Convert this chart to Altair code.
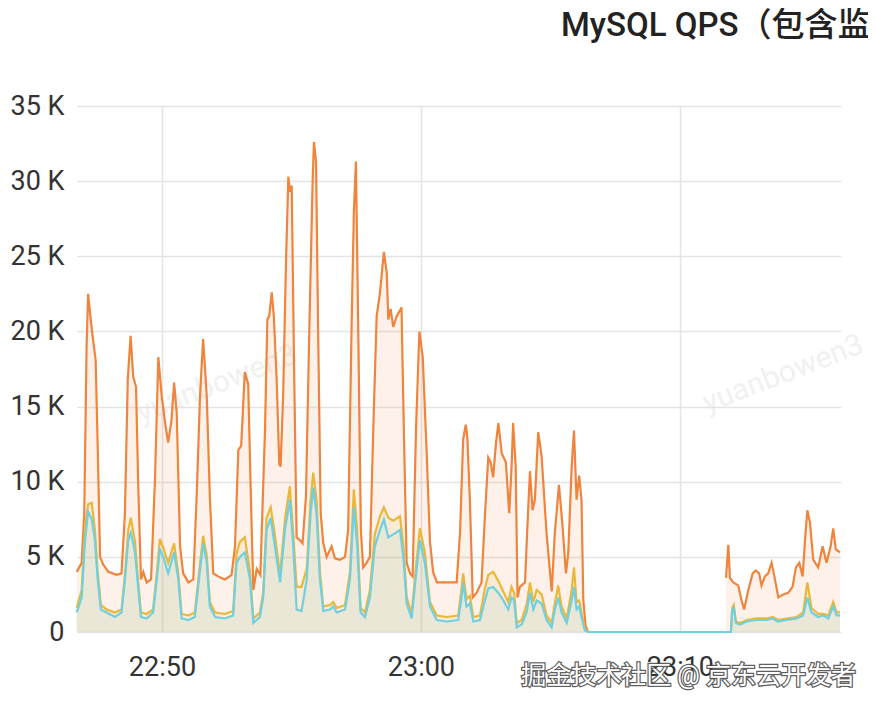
import altair as alt
import pandas as pd

TITLE = "MySQL QPS（包含监控）"
WATERMARK = "yuanbowen3"
CREDIT = "掘金技术社区 @ 京东云开发者"

# x positions are minutes after 22:00 (50 -> 22:50, 60 -> 23:00, 70 -> 23:10)
X_TICKS = [50, 60, 70]
Y_TICKS = [0, 5, 10, 15, 20, 25, 30, 35]  # thousands of queries per second

# orange series (total QPS, K)
orange_t = [46.71, 46.90, 47.00, 47.09, 47.15, 47.26, 47.35, 47.44, 47.52, 47.61,
            47.73, 47.93, 48.25, 48.44, 48.57, 48.68, 48.79, 48.89, 49.00, 49.08,
            49.19, 49.28, 49.41, 49.58, 49.73, 49.86, 49.99, 50.14, 50.24, 50.37,
            50.47, 50.57, 50.70, 50.82, 51.02, 51.21, 51.34, 51.47, 51.59, 51.73,
            51.85, 51.98, 52.17, 52.43, 52.69, 52.82, 52.95, 53.06, 53.20, 53.33,
            53.45, 53.53, 53.66, 53.80, 53.98, 54.07, 54.14, 54.24, 54.32, 54.43,
            54.53, 54.58, 54.68, 54.79, 54.88, 54.94, 55.01, 55.10, 55.20, 55.33,
            55.43, 55.56, 55.69, 55.82, 55.87, 55.95, 56.03, 56.13, 56.23, 56.36,
            56.55, 56.68, 56.87, 57.07, 57.19, 57.32, 57.41, 57.49, 57.58, 57.68,
            57.77, 57.90, 58.03, 58.16, 58.29, 58.42, 58.57, 58.68, 58.74, 58.83,
            58.93, 59.06, 59.16, 59.25, 59.34, 59.45, 59.58, 59.68, 59.81, 59.94,
            60.07, 60.22, 60.35, 60.47, 60.62, 60.99, 61.38, 61.51, 61.63, 61.73,
            61.79, 61.89, 62.00, 62.15, 62.34, 62.47, 62.60, 62.69, 62.79, 62.90,
            62.99, 63.12, 63.28, 63.41, 63.50, 63.56, 63.66, 63.73, 63.82, 64.02,
            64.10, 64.21, 64.31, 64.40, 64.53, 64.66, 64.85, 65.05, 65.17, 65.33,
            65.47, 65.60, 65.69, 65.82, 65.91, 66.01, 66.11, 66.20, 66.27, 66.36,
            66.46,
            71.78, 71.87, 71.93, 72.06, 72.25, 72.38, 72.48, 72.64, 72.81, 72.93,
            73.06, 73.15, 73.28, 73.41, 73.54, 73.67, 73.80, 73.99, 74.18, 74.35,
            74.48, 74.61, 74.74, 74.83, 74.92, 75.02, 75.15, 75.34, 75.51, 75.66,
            75.82, 75.92, 76.02, 76.18]
orange_v = [4.0, 4.6, 7.9, 19.0, 22.5, 20.6, 19.3, 18.1, 12.3, 5.0,
            4.5, 4.0, 3.8, 3.9, 7.9, 16.8, 19.7, 17.0, 16.3, 10.1,
            3.5, 4.0, 3.3, 3.5, 10.1, 18.3, 15.7, 13.7, 12.6, 14.1,
            16.6, 14.6, 5.7, 3.9, 3.3, 3.5, 9.0, 15.7, 19.5, 15.7,
            9.0, 3.9, 3.7, 3.5, 3.8, 5.7, 12.1, 12.4, 17.3, 16.5,
            7.9, 2.8, 4.2, 3.8, 13.5, 20.8, 21.0, 22.6, 21.0, 16.8,
            11.2, 11.0, 15.7, 24.6, 30.3, 29.3, 29.7, 17.9, 6.3, 6.1,
            5.9, 9.0, 20.1, 30.1, 32.6, 31.3, 20.1, 7.9, 5.9, 5.0,
            5.7, 4.9, 4.8, 5.0, 6.8, 20.1, 27.9, 31.3, 20.1, 6.8,
            4.3, 4.6, 5.0, 13.5, 21.0, 22.6, 25.3, 23.9, 20.8, 21.5,
            20.3, 21.0, 21.3, 21.6, 13.5, 4.6, 3.9, 3.7, 13.5, 20.0,
            18.3, 12.0, 6.0, 4.0, 3.3, 3.3, 3.3, 6.6, 12.8, 13.8,
            13.0, 8.8, 2.3, 2.6, 3.3, 7.7, 11.6, 11.3, 10.3, 12.6,
            13.9, 11.9, 11.3, 7.9, 11.0, 13.9, 11.0, 2.3, 3.0, 3.3,
            6.6, 10.7, 8.1, 8.8, 13.3, 11.7, 6.6, 2.7, 6.6, 9.8,
            7.0, 3.9, 5.3, 11.0, 13.4, 8.8, 10.4, 8.8, 2.1, 0.4,
            0.0,
            3.6, 5.8, 3.6, 3.3, 3.1, 2.1, 1.5, 2.8, 3.9, 4.1,
            3.9, 3.1, 3.7, 3.9, 4.6, 3.5, 2.3, 2.5, 2.6, 3.0,
            4.3, 4.6, 3.7, 6.1, 8.1, 7.3, 4.8, 4.3, 5.7, 4.6,
            5.7, 6.9, 5.5, 5.3]

# yellow and teal series share the same sample times
ty_t = [46.71, 46.90, 47.03, 47.15, 47.29, 47.41, 47.52, 47.64, 47.86, 48.19,
        48.44, 48.57, 48.70, 48.80, 48.96, 49.08, 49.19, 49.41, 49.66, 49.80,
        49.92, 50.05, 50.24, 50.47, 50.63, 50.76, 51.02, 51.27, 51.43, 51.59,
        51.73, 51.85, 52.05, 52.43, 52.75, 52.88, 53.01, 53.20, 53.40, 53.53,
        53.78, 53.91, 54.04, 54.20, 54.36, 54.56, 54.75, 54.94, 55.07, 55.20,
        55.39, 55.59, 55.74, 55.84, 55.97, 56.10, 56.23, 56.49, 56.61, 56.75,
        57.07, 57.26, 57.41, 57.54, 57.67, 57.84, 58.03, 58.22, 58.42, 58.57,
        58.74, 58.93, 59.19, 59.32, 59.45, 59.64, 59.83, 59.96, 60.15, 60.35,
        60.61, 60.99, 61.44, 61.57, 61.63, 61.76, 61.89, 62.02, 62.28, 62.47,
        62.60, 62.79, 62.99, 63.18, 63.37, 63.50, 63.60, 63.70, 63.89, 64.08,
        64.21, 64.34, 64.47, 64.66, 64.85, 65.05, 65.17, 65.30, 65.43, 65.63,
        65.82, 65.91, 66.01, 66.11, 66.20, 66.33, 66.46, 71.97, 72.02, 72.08,
        72.16, 72.32, 72.58, 72.96, 73.35, 73.59, 73.78, 74.12, 74.51, 74.76,
        74.92, 75.08, 75.34, 75.53, 75.73, 75.92, 76.05, 76.18]
teal_v = [1.3, 2.3, 6.1, 8.0, 7.5, 6.1, 3.5, 1.5, 1.3, 1.0,
          1.3, 3.5, 6.1, 6.6, 5.3, 3.0, 1.0, 0.9, 1.3, 3.5,
          5.5, 5.0, 3.9, 5.3, 3.5, 0.9, 0.8, 1.0, 3.5, 5.9,
          4.6, 1.7, 1.0, 0.9, 1.1, 4.6, 5.0, 5.3, 3.5, 0.6,
          1.0, 2.3, 6.8, 7.6, 5.7, 3.3, 6.8, 8.8, 5.7, 1.5,
          1.4, 3.5, 7.9, 9.6, 7.9, 3.5, 1.4, 1.5, 1.7, 1.3,
          1.5, 3.5, 8.3, 5.7, 1.3, 1.0, 2.3, 5.7, 6.8, 7.5,
          6.3, 6.5, 6.8, 5.0, 1.9, 0.9, 4.1, 6.1, 4.6, 1.7,
          0.8, 0.7, 0.8, 2.3, 3.3, 1.7, 1.9, 0.7, 0.8, 2.1,
          2.9, 3.0, 2.6, 2.1, 1.5, 2.3, 2.1, 0.3, 0.5, 1.3,
          2.6, 1.5, 2.1, 1.9, 0.8, 0.3, 1.5, 2.3, 1.3, 0.6,
          2.1, 3.0, 1.5, 1.7, 1.0, 0.1, 0.0, 0.0, 1.5, 1.6,
          0.6, 0.5, 0.7, 0.8, 0.8, 0.9, 0.7, 0.8, 0.9, 1.1,
          2.3, 1.3, 1.0, 1.1, 0.9, 1.7, 1.1, 1.1]
yellow_v = [1.6, 2.8, 7.0, 8.5, 8.6, 6.8, 4.0, 1.8, 1.5, 1.3,
            1.5, 3.8, 6.8, 7.6, 6.0, 3.4, 1.3, 1.2, 1.5, 3.9,
            6.2, 5.6, 4.6, 5.9, 3.9, 1.2, 1.1, 1.3, 3.9, 6.4,
            5.1, 2.0, 1.3, 1.2, 1.4, 5.2, 6.0, 6.3, 4.0, 0.9,
            1.3, 2.6, 7.6, 8.3, 6.5, 3.8, 7.5, 9.7, 6.5, 3.0,
            3.0, 4.2, 8.8, 10.6, 8.8, 4.0, 1.7, 1.8, 2.0, 1.6,
            1.8, 4.0, 9.5, 6.7, 1.6, 1.3, 2.8, 6.5, 7.7, 8.3,
            7.6, 7.4, 7.7, 5.8, 2.3, 1.2, 4.7, 6.9, 5.3, 2.0,
            1.1, 1.0, 1.1, 2.9, 3.9, 2.2, 2.4, 1.0, 1.1, 2.9,
            3.8, 4.0, 3.4, 2.7, 2.0, 3.0, 2.6, 0.6, 0.8, 1.8,
            3.3, 2.0, 2.8, 2.5, 1.1, 0.6, 1.9, 3.1, 1.7, 0.9,
            2.8, 4.3, 2.0, 2.1, 1.3, 0.2, 0.0, 0.0, 1.6, 1.8,
            0.7, 0.6, 0.8, 0.9, 0.9, 1.0, 0.8, 0.9, 1.0, 1.3,
            3.3, 1.6, 1.2, 1.2, 1.1, 2.0, 1.3, 1.3]

# (name, times, values, colour, has a no-data gap)
SERIES = [("total", orange_t, orange_v, "#EF843C", True),
          ("yellow", ty_t, yellow_v, "#EAB839", False),
          ("teal", ty_t, teal_v, "#6ED0E0", False)]


def frame(ts, vs, name, gap):
    df = pd.DataFrame({"t": ts, "v": vs})
    if gap:
        # a stretch of more than two minutes with no samples breaks the series
        df["seg"] = (df["t"].diff() > 2).cumsum()
    else:
        df["seg"] = 0
    df["series"] = name
    return df


FONT = "Roboto, 'Noto Sans CJK SC', sans-serif"
GRID = "#e4e4e4"

x_enc = alt.X("t:Q",
              scale=alt.Scale(domain=[46.72, 76.22], nice=False, zero=False),
              axis=alt.Axis(values=X_TICKS, title=None, grid=True, ticks=False, domain=False,
                            labelExpr="datum.value < 60 ? '22:' + datum.value : '23:' + (datum.value == 60 ? '00' : datum.value - 60)",
                            labelFontSize=27, labelFont=FONT, labelColor="#333333",
                            labelPadding=22, gridColor=GRID, gridWidth=1.5))
y_enc = alt.Y("v:Q", stack=None,
              scale=alt.Scale(domain=[0, 35], nice=False),
              axis=alt.Axis(values=Y_TICKS, title=None, grid=True, ticks=False, domain=False,
                            labelExpr="datum.value == 0 ? '0' : datum.value + ' K'",
                            labelFontSize=27, labelFont=FONT, labelColor="#333333",
                            labelPadding=13, gridColor=GRID, gridWidth=1.5))

layers = []

wm = pd.DataFrame({"txt": [WATERMARK, WATERMARK], "px": [140, 706], "py": [278, 268]})
layers.append(alt.Chart(wm).mark_text(fontSize=30, font=FONT, angle=339, color="#dddddd",
                                      opacity=0.4).encode(
    x=alt.X("px:Q", scale=None), y=alt.Y("py:Q", scale=None), text="txt:N"))

for name, ts, vs, col, gap in SERIES:
    df = frame(ts, vs, name, gap)
    layers.append(alt.Chart(df).mark_area(color=col, opacity=0.11, interpolate="linear").encode(
        x=x_enc, y=y_enc, detail="seg:N"))
for name, ts, vs, col, gap in SERIES:
    df = frame(ts, vs, name, gap)
    layers.append(alt.Chart(df).mark_line(color=col, strokeWidth=2.2, interpolate="linear").encode(
        x=x_enc, y=y_enc, detail="seg:N"))

title_df = pd.DataFrame({"txt": [TITLE]})
layers.append(alt.Chart(title_df).mark_text(align="left", baseline="middle", fontSize=33,
                                            font=FONT, fontWeight=500, color="#222222").encode(
    x=alt.value(484), y=alt.value(-80), text="txt:N"))

credit_df = pd.DataFrame({"txt": [CREDIT]})
layers.append(alt.Chart(credit_df).mark_text(align="right", baseline="middle", fontSize=25,
                                             font=FONT, color="#444444", stroke="#444444",
                                             strokeWidth=2.5, opacity=0.85).encode(
    x=alt.value(779), y=alt.value(570), text="txt:N"))
layers.append(alt.Chart(credit_df).mark_text(align="right", baseline="middle", fontSize=25,
                                             font=FONT, color="#ffffff").encode(
    x=alt.value(779), y=alt.value(570), text="txt:N"))

chart = alt.layer(*layers).properties(
    width=764, height=526,
    autosize=alt.AutoSizeParams(type="none"),
    padding={"left": 69, "top": 98, "right": 27, "bottom": 66},
    background="white",
).configure_view(stroke=None)

chart.save("out.html", embed_options={"renderer": "svg", "actions": False})
